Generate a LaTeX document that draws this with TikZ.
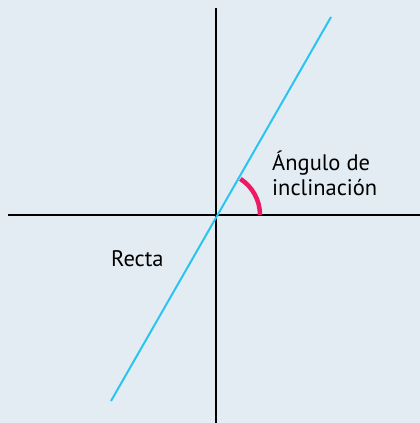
\documentclass[tikz,border=0pt]{standalone}
\usepackage{fontspec}
\setmainfont{PT Sans}
\definecolor{fondo}{HTML}{E3ECF2}
\definecolor{recta}{HTML}{2BC4F0}
\definecolor{angulo}{HTML}{EC1A64}
\tikzset{
  eje/.style={line width=2pt,black},
  rectaline/.style={line width=2pt,recta},
  arco/.style={line width=4.5pt,angulo},
  etiqueta/.style={font=\fontsize{22.5}{25}\selectfont,align=left,inner sep=0pt}
}
\begin{document}
\begin{tikzpicture}[x=1pt,y=-1pt]
                \fill[fondo] (0,0) rectangle (420,423);
                \useasboundingbox (0,0) rectangle (420,423);
                \coordinate (O) at (216,215);
                \coordinate (xizq) at (8,215);
                \coordinate (xder) at (420,215);
                \coordinate (yarr) at (216,8);
                \coordinate (yab) at (216,423);
                \coordinate (r1) at (111,401);
                \coordinate (r2) at (331,17);
                \draw[eje] (xizq) -- (xder);
                \draw[eje] (yarr) -- (yab);
                \draw[rectaline] (r1) -- (r2);
                \draw[arco] (260,215) arc[start angle=0,end angle=-57,radius=43];
                \node[etiqueta,anchor=north west] (ang) at (272,151) {Ángulo de\\inclinación};
                \node[etiqueta,anchor=west] (rec) at (111,259) {Recta};
            \end{tikzpicture}
\end{document}
